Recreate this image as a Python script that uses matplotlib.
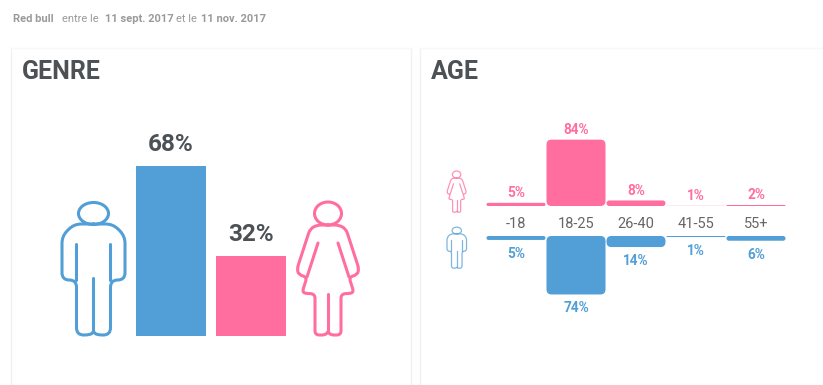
import matplotlib
matplotlib.use('Agg')
from matplotlib import pyplot as plt
from matplotlib.patches import FancyBboxPatch, Ellipse, PathPatch
from matplotlib.path import Path

W, H = 823, 385
BLUE = '#519fd6'
PINK = '#ff6e9e'
DARK = '#4c5156'
GREY = '#9a9a9a'

plt.rcParams['font.family'] = ['Roboto', 'DejaVu Sans']

# data
genre_labels = ['68%', '32%']
genre_values = [68, 32]
age_groups = ['-18', '18-25', '26-40', '41-55', '55+']
women_pct = [5, 84, 8, 1, 2]
men_pct = [5, 74, 14, 1, 6]
# bar heights as drawn (the 1% women bar barely shows in the picture)
women_bars = [4, 84, 7, 0.2, 1.3]
men_bars = [5, 74, 14, 1.3, 6]

fig = plt.figure(figsize=(W / 100, H / 100), dpi=100)
bg = fig.add_axes([0, 0, 1, 1])
bg.set_xlim(0, W)
bg.set_ylim(H, 0)
bg.axis('off')


def px_axes(x0, y0, x1, y1):
    # axes placed with the picture's pixel box, y0 is the top edge
    a = fig.add_axes([x0 / W, 1 - y1 / H, (x1 - x0) / W, (y1 - y0) / H])
    a.axis('off')
    a.patch.set_alpha(0)
    return a


def rounded(points, r):
    # polyline with quadratic rounded corners
    verts = [points[0]]
    codes = [Path.MOVETO]
    for i in range(1, len(points) - 1):
        p0, p1, p2 = points[i - 1], points[i], points[i + 1]
        d1 = ((p1[0] - p0[0]) ** 2 + (p1[1] - p0[1]) ** 2) ** .5
        d2 = ((p2[0] - p1[0]) ** 2 + (p2[1] - p1[1]) ** 2) ** .5
        r1 = min(r, d1 / 2) / d1
        r2 = min(r, d2 / 2) / d2
        a = (p1[0] + (p0[0] - p1[0]) * r1, p1[1] + (p0[1] - p1[1]) * r1)
        b = (p1[0] + (p2[0] - p1[0]) * r2, p1[1] + (p2[1] - p1[1]) * r2)
        verts += [a, p1, b]
        codes += [Path.LINETO, Path.CURVE3, Path.CURVE3]
    verts.append(points[-1])
    codes.append(Path.LINETO)
    return Path(verts, codes)


def draw_icon(x0, y0, s, color, lw, woman, alpha=1):
    # icon shapes are written for the big figures, x0/y0 = top left, s = scale
    def P(pts):
        return [(x0 + x * s, y0 + y * s) for x, y in pts]
    style = dict(fill=False, edgecolor=color, linewidth=lw, capstyle='round', joinstyle='round', alpha=alpha)
    if woman:
        bg.add_patch(Ellipse((x0 + 31 * s, y0 + 11.5 * s), 27 * s, 23 * s, **style))
        body = [(31, 23), (20, 23), (13, 27), (0, 67), (2, 73), (10, 75), (5, 91), (18, 92),
                (18, 133), (29, 133), (31, 129), (33, 133), (44, 133), (44, 92), (57, 91),
                (52, 75), (60, 73), (62, 67), (49, 27), (42, 23), (31, 23)]
        bg.add_patch(PathPatch(rounded(P(body), 4 * s + .3), **style))
        for line in ([(21, 41), (10, 75)], [(41, 41), (52, 75)], [(31, 92), (31, 129)]):
            bg.add_patch(PathPatch(Path(P(line)), **style))
    else:
        bg.add_patch(Ellipse((x0 + 31.5 * s, y0 + 11.5 * s), 30 * s, 22 * s, **style))
        body = [(31.5, 22), (12, 22), (0, 34), (0, 78), (14.5, 78), (14.5, 133), (29, 133),
                (31.5, 129), (34, 133), (48.5, 133), (48.5, 78), (63, 78), (63, 34), (51, 22),
                (31.5, 22)]
        bg.add_patch(PathPatch(rounded(P(body), 7 * s + .3), **style))
        for line in ([(14.5, 42), (14.5, 78)], [(48.5, 42), (48.5, 78)], [(31.5, 76), (31.5, 129)]):
            bg.add_patch(PathPatch(Path(P(line)), **style))


# cards
for x0, x1 in [(11, 411), (420, 830)]:
    bg.plot([x0, x0], [48, H], color='#f1f1f1', lw=1)
    bg.plot([x1, x1], [48, H], color='#f1f1f1', lw=1)
    bg.plot([x0, x1], [48, 48], color='#f8f8f8', lw=1)

# header
for x, s, w in [(13, 'Red bull', 'bold'), (62, 'entre le', 'normal'), (105, '11 sept. 2017', 'bold'),
                (176, 'et le', 'normal'), (201, '11 nov. 2017', 'bold')]:
    bg.text(x, 19, s, color=GREY, fontsize=8.0, fontweight=w, va='center', ha='left')

bg.text(22, 72, 'GENRE', color=DARK, fontsize=18, fontweight='bold', va='center', ha='left')
bg.text(431, 72, 'AGE', color=DARK, fontsize=18, fontweight='bold', va='center', ha='left')

# genre bars, 2.5 px per percent
ax_g = px_axes(136, 136, 286, 336)
ax_g.set_xlim(0, 150)
ax_g.set_ylim(0, 80)
ax_g.bar([35, 115], genre_values, width=70, color=[BLUE, PINK])
for x, v, lab in zip([35, 115], genre_values, genre_labels):
    ax_g.annotate(lab, (x, v), xytext=(0, 7), textcoords='offset points', ha='center', va='bottom',
                  color=DARK, fontsize=17.5, fontweight='bold', annotation_clip=False)

draw_icon(62, 202, 1, BLUE, 2.2, False)
draw_icon(297, 202, 1, PINK, 2.2, True)
draw_icon(447, 227, .31, BLUE, .9, False, alpha=.75)
draw_icon(447, 171, .31, PINK, .9, True, alpha=.75)

# age bars, 0.79 px per percent, 60 px per group
SCALE = .79
ax_f = px_axes(486, 126, 786, 206)
ax_m = px_axes(486, 236, 786, 316)
for a in (ax_f, ax_m):
    a.set_xlim(-.5, 4.5)
ax_f.set_ylim(0, 80 / SCALE)
ax_m.set_ylim(80 / SCALE, 0)
ASPECT = 60 / SCALE


def age_bar(a, i, h, color):
    px = h * SCALE
    w = 59 / 60
    r = min(5, px / 2) / 60
    a.add_patch(FancyBboxPatch((i - w / 2, 0), w, h, boxstyle='round,pad=0,rounding_size=%f' % r,
                               mutation_aspect=ASPECT, facecolor=color, edgecolor='none'))


for i in range(len(age_groups)):
    age_bar(ax_f, i, women_bars[i], PINK)
    age_bar(ax_m, i, men_bars[i], BLUE)
    ax_f.annotate('%d%%' % women_pct[i], (i, women_bars[i]), xytext=(0, 7), textcoords='offset points',
                  ha='center', va='center', color=PINK, fontsize=9.8, fontweight='bold', annotation_clip=False)
    ax_m.annotate('%d%%' % men_pct[i], (i, men_bars[i]), xytext=(0, -10), textcoords='offset points',
                  ha='center', va='center', color=BLUE, fontsize=9.8, fontweight='bold', annotation_clip=False)
    bg.text(516 + 60 * i, 224, age_groups[i], color='#666666', fontsize=10.5, fontweight='normal',
            ha='center', va='center')

plt.savefig('out.png', dpi=100)
